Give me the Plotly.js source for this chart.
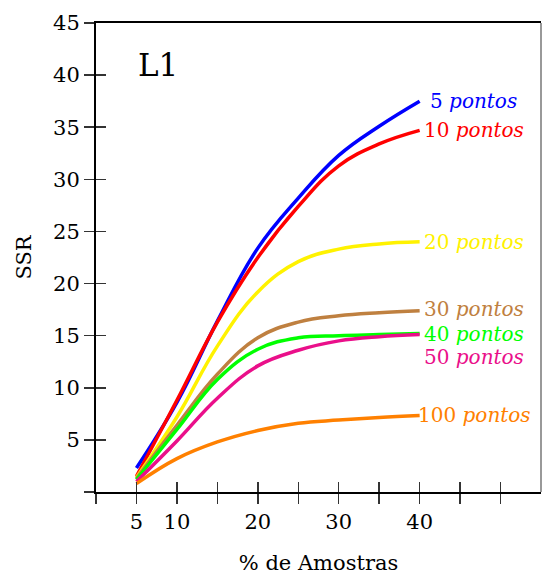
<!DOCTYPE html>
<html>
<head>
<meta charset="utf-8">
<script src="https://cdn.plot.ly/plotly-3.0.1.min.js"></script>
<style>html,body{margin:0;padding:0;background:#fff;}#chart{width:542px;height:578px;}</style>
</head>
<body>
<div id="chart"></div>
<script>
// % de Amostras
const xPct = [5, 10, 15, 20, 25, 30, 35, 40];
// SSR per number of points
const ssr5   = [2.3, 8.6, 16.4, 23.4, 28.2, 32.3, 35.1, 37.5];
const ssr10  = [1.5, 8.8, 16.3, 22.5, 27.4, 31.3, 33.4, 34.7];
const ssr20  = [1.4, 7.2, 14.0, 19.2, 22.1, 23.3, 23.8, 24.0];
const ssr30  = [1.3, 6.4, 11.3, 14.8, 16.3, 16.9, 17.2, 17.4];
const ssr40  = [1.2, 6.0, 10.8, 13.7, 14.8, 15.0, 15.1, 15.2];
const ssr50  = [1.0, 4.9, 9.0, 12.1, 13.6, 14.5, 14.9, 15.1];
const ssr100 = [0.8, 3.2, 4.8, 5.9, 6.6, 6.9, 7.15, 7.35];
const seriesNames = ['5', '10', '20', '30', '40', '50', '100'];
const seriesVals = [ssr5, ssr10, ssr20, ssr30, ssr40, ssr50, ssr100];
const seriesColors = ['#0000ff', '#ff0000', '#fff200', '#bf8040', '#00ff00', '#ea0f8a', '#ff8000'];
const labelYShift = [0, 0, 0, 2, 0, -22, 0];
const labelXShift = [6, 0, 0, 0, 0, 0, -6];
const xTickVals = [0, 5, 10, 15, 20, 25, 30, 35, 40, 45, 50];
const xTickText = ['', '5', '10', '', '20', '', '30', '', '40', '', ''];
const yTickVals = [0, 5, 10, 15, 20, 25, 30, 35, 40, 45];
const yTickText = ['', '5', '10', '15', '20', '25', '30', '35', '40', '45'];
const panelLabel = 'L1';

const FONT = 'DejaVu Serif';

const traces = seriesVals.map((v, i) => ({
  x: xPct, y: v, type: 'scatter', mode: 'lines',
  line: {color: seriesColors[i], width: 3.5, shape: 'spline', smoothing: 1.15},
  hoverinfo: 'skip', showlegend: false, xaxis: 'x', yaxis: 'y'
}));
// dummy trace to activate overlay axes (inside ticks)
traces.push({x: [0], y: [0], type: 'scatter', mode: 'markers', marker: {opacity: 0}, xaxis: 'x2', yaxis: 'y2', showlegend: false, hoverinfo: 'skip'});

const annotations = seriesVals.map((v, i) => ({
  x: xPct[xPct.length - 1], y: v[v.length - 1], xref: 'x', yref: 'y',
  text: seriesNames[i] + ' <i>pontos</i>', showarrow: false,
  xanchor: 'left', yanchor: 'middle', xshift: 2 + labelXShift[i], yshift: labelYShift[i],
  font: {family: FONT, size: 20, color: seriesColors[i]}
}));
annotations.push({
  x: 5, y: 41, xref: 'x', yref: 'y', text: panelLabel, showarrow: false,
  xanchor: 'left', yanchor: 'middle', font: {family: FONT, size: 31, color: '#000'}
});

const layout = {
  width: 542, height: 578,
  margin: {l: 96, r: 1, t: 23, b: 86},
  paper_bgcolor: '#fff', plot_bgcolor: '#fff',
  font: {family: FONT, size: 21, color: '#000'},
  showlegend: false,
  xaxis: {
    range: [0, 55], tickmode: 'array', tickvals: xTickVals, ticktext: xTickText,
    ticks: 'outside', ticklen: 10, tickwidth: 1.5, tickcolor: '#333',
    showline: true, linecolor: '#000', linewidth: 2, mirror: true,
    showgrid: false, zeroline: false, fixedrange: true,
    tickfont: {family: FONT, size: 21},
    title: {text: '% de Amostras', font: {family: FONT, size: 21, color: '#000'}, standoff: 22}
  },
  yaxis: {
    range: [0, 45], tickmode: 'array', tickvals: yTickVals, ticktext: yTickText,
    ticks: 'outside', ticklen: 10, tickwidth: 1.5, tickcolor: '#333',
    showline: true, linecolor: '#000', linewidth: 2,
    showgrid: false, zeroline: false, fixedrange: true,
    tickfont: {family: FONT, size: 21},
    title: {text: 'SSR', font: {family: FONT, size: 21, color: '#000'}, standoff: 16}
  },
  xaxis2: {
    overlaying: 'x', anchor: 'y', range: [0, 55], tickmode: 'array', tickvals: xTickVals,
    ticks: 'inside', ticklen: 10, tickwidth: 1.5, tickcolor: '#333',
    showticklabels: false, showline: false, showgrid: false, zeroline: false, fixedrange: true
  },
  yaxis2: {
    overlaying: 'y', anchor: 'x', range: [0, 45], tickmode: 'array', tickvals: yTickVals,
    ticks: 'inside', ticklen: 10, tickwidth: 1.5, tickcolor: '#333',
    showticklabels: false, showline: false, showgrid: false, zeroline: false, fixedrange: true
  },
  shapes: [
    {type: 'line', xref: 'paper', yref: 'paper', x0: 1, x1: 1, y0: 0, y1: 1, line: {color: '#777', width: 1.5}}
  ],
  annotations: annotations
};

Plotly.newPlot('chart', traces, layout, {displayModeBar: false, staticPlot: true});
</script>
</body>
</html>
